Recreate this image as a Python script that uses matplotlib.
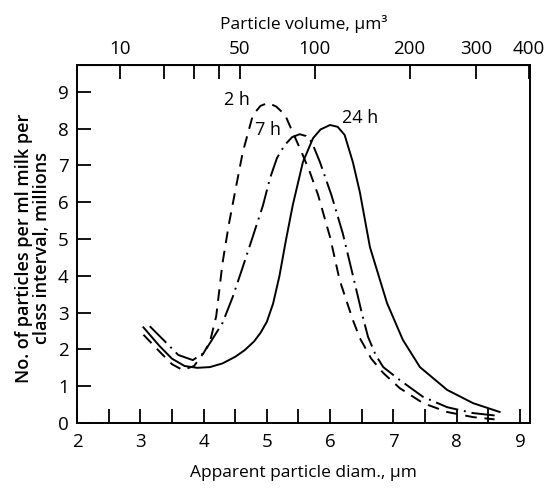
import matplotlib
matplotlib.use("Agg")
import matplotlib.pyplot as plt
import numpy as np
from matplotlib.ticker import FixedLocator, NullFormatter

plt.rcParams['font.family'] = ['Open Sans', 'DejaVu Sans']

# Size distributions of milk fat globules after 2, 7 and 24 h
diam_2h = [3.05, 3.3, 3.5, 3.67, 3.85, 4.0, 4.1, 4.2, 4.3, 4.4, 4.5, 4.62, 4.78,
           4.9, 5.02, 5.15, 5.29, 5.41, 5.55, 5.68, 5.81, 6.0, 6.15, 6.36, 6.47,
           6.65, 6.84, 7.1, 7.47, 7.85, 8.26, 8.6]
count_2h = [2.4, 1.95, 1.6, 1.44, 1.55, 1.9, 2.2, 2.9, 4.35, 5.4, 6.3, 7.36, 8.37,
            8.62, 8.7, 8.6, 8.37, 7.9, 7.36, 6.82, 6.2, 5.05, 3.89, 2.8, 2.31,
            1.75, 1.36, 0.95, 0.54, 0.3, 0.16, 0.1]

diam_7h = [3.15, 3.4, 3.6, 3.83, 4.0, 4.1, 4.3, 4.46, 4.62, 4.76, 4.94, 5.05,
           5.16, 5.28, 5.4, 5.52, 5.62, 5.71, 5.84, 6.02, 6.2, 6.39, 6.5, 6.6,
           6.72, 6.84, 7.1, 7.47, 7.85, 8.26, 8.63]
count_7h = [2.63, 2.2, 1.85, 1.71, 1.9, 2.17, 2.72, 3.42, 4.24, 4.97, 5.92, 6.65,
            7.2, 7.55, 7.77, 7.85, 7.8, 7.64, 7.09, 6.2, 5.16, 3.8, 3.0, 2.34,
            1.85, 1.52, 1.17, 0.71, 0.43, 0.27, 0.2]

diam_24h = [3.05, 3.3, 3.5, 3.7, 3.9, 4.1, 4.3, 4.5, 4.65, 4.8, 4.9, 5.0, 5.1,
            5.2, 5.3, 5.41, 5.57, 5.73, 5.85, 6.0, 6.12, 6.23, 6.36, 6.47, 6.63,
            6.9, 7.15, 7.42, 7.85, 8.26, 8.68]
count_24h = [2.6, 2.1, 1.75, 1.55, 1.5, 1.52, 1.62, 1.8, 1.98, 2.22, 2.45, 2.75,
             3.25, 4.0, 4.95, 5.92, 7.09, 7.74, 7.98, 8.1, 8.05, 7.83, 7.09, 6.28,
             4.78, 3.26, 2.26, 1.52, 0.9, 0.54, 0.3]

x_ticks = [2, 3, 4, 5, 6, 7, 8, 9]
y_ticks = [0, 1, 2, 3, 4, 5, 6, 7, 8, 9]
vol_labelled = [10, 50, 100, 200, 300, 400]
vol_minor = [20, 30, 40]

fig = plt.figure(figsize=(5.45, 4.9), dpi=100)
ax = fig.add_axes([0.1413, 0.1367, 0.8312, 0.7306])

ax.plot(diam_2h, count_2h, color='black', lw=1.4, dashes=(6, 4))
ax.plot(diam_7h, count_7h, color='black', lw=1.4, dashes=(12, 3, 1, 3))
ax.plot(diam_24h, count_24h, color='black', lw=1.4)

ax.text(4.53, 8.78, '2 h', fontsize=13, ha='center', va='center')
ax.text(5.02, 7.96, '7 h', fontsize=13, ha='center', va='center')
ax.text(6.47, 8.29, '24 h', fontsize=13, ha='center', va='center')

ax.set_xlim(2, 9.16)
ax.set_ylim(0, 9.73)

ax.set_xticks(x_ticks)
ax.set_xticks(np.arange(2.5, 9, 1.0), minor=True)
ax.set_yticks(y_ticks)
ax.tick_params(axis='both', which='both', direction='in', length=10, width=1.3,
               labelsize=13.5, pad=6)
ax.tick_params(axis='x', which='both', pad=7)
for s in ax.spines.values():
    s.set_linewidth(1.4)

ax.set_xlabel('Apparent particle diam., µm', fontsize=12.5, labelpad=10)

# volume scale on top, sphere volume from diameter
def d_to_v(d):
    return np.pi / 6.0 * np.power(np.clip(d, 1e-6, None), 3)

def v_to_d(v):
    return np.cbrt(6.0 * np.asarray(v) / np.pi)

top = ax.secondary_xaxis('top', functions=(d_to_v, v_to_d))
top.xaxis.set_major_locator(FixedLocator(vol_labelled))
top.xaxis.set_minor_locator(FixedLocator(vol_minor))
top.xaxis.set_minor_formatter(NullFormatter())
top.set_xticklabels([str(v) for v in vol_labelled])
top.tick_params(which='both', direction='in', length=10, width=1.3,
                labelsize=13.5, pad=5)
top.set_xlabel('Particle volume, µm³', fontsize=12.5, labelpad=8)

fig.text(0.06, 0.494, 'No. of particles per ml milk per\nclass interval, millions',
         rotation=90, ha='center', va='center', fontsize=13, fontweight='semibold',
         linespacing=1.0)

fig.savefig('out.png', dpi=100)
